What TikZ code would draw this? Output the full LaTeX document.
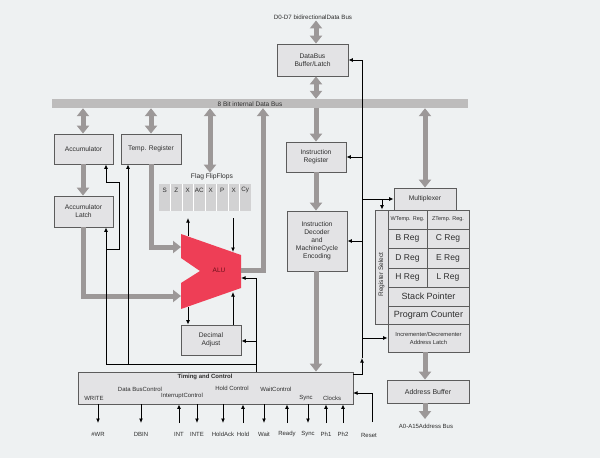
\documentclass[tikz,border=0pt]{standalone}
\usepackage{fontspec}
\setmainfont{Liberation Sans}
\usetikzlibrary{arrows.meta}
\definecolor{bg}{HTML}{EEF1F2}
\definecolor{boxfill}{HTML}{E3E3E5}
\definecolor{boxline}{HTML}{5C5C5C}
\definecolor{garrow}{HTML}{9C9898}
\definecolor{busgray}{HTML}{BDBCBC}
\definecolor{flagfill}{HTML}{D2D2D3}
\definecolor{alured}{HTML}{EE3E56}
\definecolor{aludark}{HTML}{6B0F1A}
\definecolor{txt}{HTML}{2E2E2E}
\newcommand{\fsz}[1]{\fontsize{#1}{8}\selectfont}
\tikzset{
  box/.style={draw=boxline, fill=boxfill, line width=0.8pt, inner sep=0pt,
    text=txt, align=center, font=\fsz{6.7}},
  cell/.style={box, font=\fsz{8.5}},
  lbl/.style={text=txt, inner sep=1pt, font=\fsz{6}},
  gar/.style={draw=garrow, line width=5pt, -{Triangle[width=12pt,length=8pt]}},
  gbi/.style={draw=garrow, line width=5pt,
    {Triangle[width=12pt,length=8pt]}-{Triangle[width=12pt,length=8pt]}},
  ctl/.style={draw=black, line width=0.9pt},
  ctla/.style={ctl, -{Latex[length=4.5pt,width=4pt]}},
}
\begin{document}
\begin{tikzpicture}[x=1pt,y=-1pt]
\useasboundingbox (0,0) rectangle (600,458);
\fill[bg] (0,0) rectangle (600,458);

% external data bus and buffer
\node[lbl, font=\fsz{6.2}] (dlabel) at (313,17) {D0-D7 bidirectionalData Bus};
\node[box, minimum width=71pt, minimum height=32pt] (dbb) at (312.5,60) {DataBus\\Buffer/Latch};
\draw[gbi] (dlabel.south -| 316,0) -- (dbb.north -| 316,0);

% internal bus
\node[fill=busgray, minimum width=416pt, minimum height=9pt, inner sep=0pt] (bus) at (260,103.5) {};
\node[lbl, font=\fsz{6.5}] (buslbl) at (250,104) {8 Bit internal Data Bus};
\draw[gbi] (dbb.south -| 316,0) -- (bus.north -| 316,0);

% accumulator side
\node[box, minimum width=59pt, minimum height=30pt] (acc) at (83.5,149) {Accumulator};
\node[box, minimum width=60pt, minimum height=30pt] (tmp) at (151,149) {Temp. Register};
\node[box, minimum width=59pt, minimum height=31pt] (accl) at (83.5,211.5) {Accumulator\\Latch};
\draw[gbi] (bus.south -| 83,0) -- (acc.north -| 83,0);
\draw[gbi] (bus.south -| 151,0) -- (tmp.north -| 151,0);
\draw[gar] (acc.south -| 83,0) -- (accl.north -| 83,0);

% ALU
\coordinate (aluTL) at (181,234);
\coordinate (aluTR) at (241,255);
\coordinate (aluBR) at (241,288);
\coordinate (aluBL) at (181,309);
\coordinate (aluN1) at (181,283);
\coordinate (aluN) at (200,271);
\coordinate (aluN2) at (181,258);
\fill[alured] (aluTL) -- (aluTR) -- (aluBR) -- (aluBL) -- (aluN1) -- (aluN) -- (aluN2) -- cycle;
\node[font=\fsz{6.5}, text=aludark] (alu) at (219,270) {ALU};
\coordinate (aluInA) at (181,247);
\coordinate (aluInB) at (181,296);
\coordinate (aluOut) at (241,270);
\draw[gar] (tmp.south -| 151,0) |- (aluInA);
\draw[gar] (accl.south -| 83,0) |- (aluInB);
\draw[gar] (aluOut) -| (bus.south -| 263,0);

% flags
\node[lbl, font=\fsz{6.7}] (flaglbl) at (212,177) {Flag FlipFlops};
\node[fill=flagfill, minimum width=92pt, minimum height=27pt, inner sep=0pt] (flags) at (205,197.5) {};
\foreach \i in {1,...,7} \draw[white, line width=0.6pt] (159+11.5*\i,184) -- (159+11.5*\i,211);
\foreach \t [count=\i from 0] in {S,Z,X,AC,X,P,X,Cy}
  \node[lbl, font=\fsz{6.3}] (flag\i) at (164.75+11.5*\i,190) {\t};
\draw[gbi] (bus.south -| 210,0) -- (flaglbl.north -| 210,0);

\coordinate (fOut) at (188,218);
\coordinate (fIn) at (233,218);
\draw[ctla] (188,236) -- (fOut);
\draw[ctla] (fIn) -- (233,252);

% decimal adjust
\node[box, minimum width=60pt, minimum height=30pt] (da) at (211,340) {Decimal\\Adjust};
\draw[ctla] (188,307) -- (da.north -| 188,0);
\draw[ctla] (da.north -| 233,0) -- (233,292);

% timing and control
\node[box, minimum width=275pt, minimum height=32pt] (tc) at (215.5,388) {};
\node[lbl, font=\bfseries\fsz{6}] (tctitle) at (205,377) {Timing and Control};
\node[lbl] (cWrite) at (94,398) {WRITE};
\node[lbl] (cData) at (140,389) {Data BusControl};
\node[lbl] (cInt) at (182,396) {InterruptControl};
\node[lbl] (cHold) at (232,388) {Hold Control};
\node[lbl] (cWait) at (276,389) {WaitControl};
\node[lbl] (cSync) at (306,398) {Sync};
\node[lbl] (cClk) at (332,398) {Clocks};

% control lines to the accumulator side
\coordinate (jR) at (256,364);
\coordinate (jL) at (106,364);
\draw[ctl] (tc.north -| jR) -- (jR) -- (jL);
\draw[ctla] (jL) -- (accl.south -| jL);
\draw[ctla] (106,249) -- (119,249) -- (119,182) -- (106,182) -- (acc.south -| jL);
\draw[ctla] (128,364) -- (tmp.south -| 128,0);
\draw[ctla] (jR) -- (256,278) -- (aluBR |- 0,278);
\draw[ctla] (256,341) -- (da.east |- 0,341);

% signals
\foreach \x/\d/\t/\n in {98/d/\#WR/wr, 141/d/DBIN/dbin, 179/u/INT/int, 197/d/INTE/inte,
  223/d/HoldAck/hack, 243/u/Hold/hold, 264/d/Wait/wait, 287/u/Ready/ready,
  308/d/Sync/sync, 326/u/Ph1/ph1, 343/u/Ph2/ph2}{
  \coordinate (sig\n) at (\x,423);
  \node[lbl] (lab\n) at (\x,434) {\t};
  \if\d d
    \draw[ctla] (tc.south -| sig\n) -- (sig\n);
  \else
    \draw[ctla] (sig\n) -- (tc.south -| sig\n);
  \fi
}
\coordinate (rst) at (372,422);
\coordinate (rstIn) at (353,393);
\node[lbl] (labrst) at (369,435) {Reset};
\draw[ctla] (rst) |- (rstIn);

% instruction path
\node[box, minimum width=60pt, minimum height=30pt] (ir) at (316,157) {Instruction\\Register};
\node[box, minimum width=60pt, minimum height=60pt] (dec) at (317,241)
  {Instruction\\Decoder\\and\\MachineCycle\\Encoding};
\draw[gar] (bus.south -| 316,0) -- (ir.north -| 316,0);
\draw[gar] (ir.south -| 316,0) -- (dec.north -| 316,0);
\draw[gar] (dec.south -| 316,0) -- (tc.north -| 316,0);

% register array
\node[box, minimum width=62pt, minimum height=22pt] (mux) at (425,199) {Multiplexer};
\node[box, minimum width=13pt, minimum height=114pt] (rsel) at (381.5,267) {};
\node[text=txt, font=\fsz{6.5}, rotate=90] (rsellbl) at (381.5,274.5) {Register Select};
\node[cell, font=\fsz{5.5}, minimum width=39pt, minimum height=19pt] (wt) at (407.5,219.5) {WTemp. Reg.};
\node[cell, font=\fsz{5.5}, minimum width=42pt, minimum height=19pt] (zt) at (448,219.5) {ZTemp. Reg.};
\node[cell, minimum width=39pt, minimum height=19pt] (rb) at (407.5,238.5) {B Reg};
\node[cell, minimum width=42pt, minimum height=19pt] (rc) at (448,238.5) {C Reg};
\node[cell, minimum width=39pt, minimum height=20pt] (rd) at (407.5,258) {D Reg};
\node[cell, minimum width=42pt, minimum height=20pt] (re) at (448,258) {E Reg};
\node[cell, minimum width=39pt, minimum height=19pt] (rh) at (407.5,277.5) {H Reg};
\node[cell, minimum width=42pt, minimum height=19pt] (rl) at (448,277.5) {L Reg};
\node[cell, font=\fsz{9}, minimum width=81pt, minimum height=19pt] (sp) at (428.5,296.5) {Stack Pointer};
\node[cell, font=\fsz{9}, minimum width=81pt, minimum height=18pt] (pc) at (428.5,315) {Program Counter};
\node[box, font=\fsz{5.8}, minimum width=81pt, minimum height=28pt] (inc) at (428.5,338)
  {Incrementer/Decrementer\\Address Latch};
\draw[gbi] (bus.south -| 425,0) -- (mux.north -| 425,0);

% address output
\node[box, font=\fsz{7}, minimum width=82pt, minimum height=23pt] (abuf) at (428,391.5) {Address Buffer};
\draw[gar] (inc.south -| 425,0) -- (abuf.north -| 425,0);
\coordinate (aout) at (425,419);
\node[lbl] (alabel) at (426,426.5) {A0-A15Address Bus};
\draw[gar] (abuf.south -| 425,0) -- (aout);

% control line on the register side
\coordinate (tcR) at (353,374);
\coordinate (cB) at (362,374);
\coordinate (cMid) at (362,358);
\coordinate (cT) at (362,60);
\draw[ctla] (tcR) -- (cB) -- (cMid);
\draw[ctla] (cMid) -- (cT) -- (dbb.east);
\draw[ctla] (ir.east -| cT) -- (ir.east);
\draw[ctla] (dec.east -| cT) -- (dec.east);
\draw[ctla] (mux.west -| cT) -- (mux.west);
\draw[ctla] (382,199) -- (rsel.north -| 382,0);
\draw[ctla] (inc.west -| cT) -- (inc.west);
\end{tikzpicture}
\end{document}
